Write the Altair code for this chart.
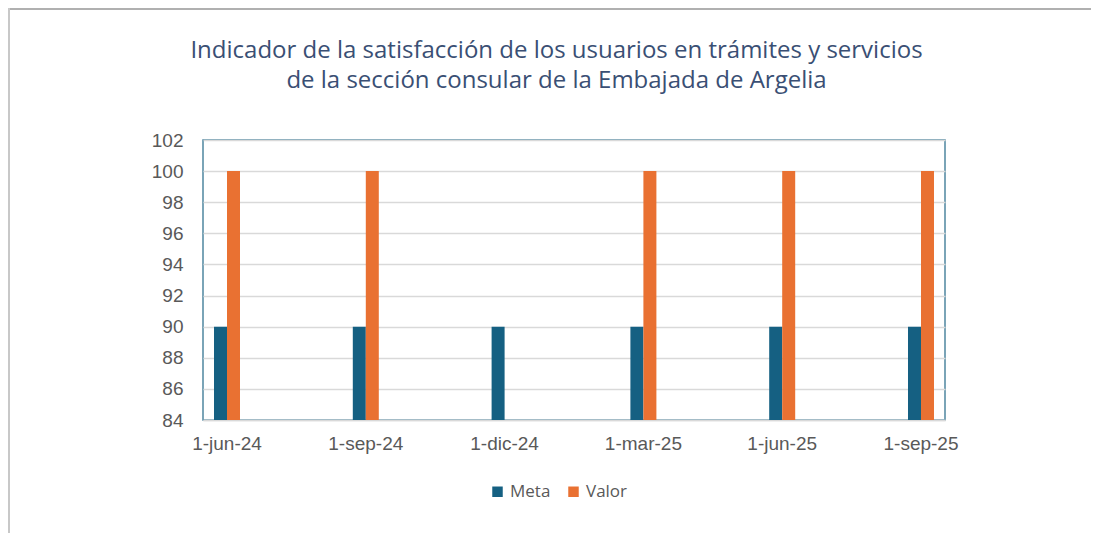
import altair as alt
import pandas as pd

fechas = ["1-jun-24", "1-sep-24", "1-dic-24", "1-mar-25", "1-jun-25", "1-sep-25"]
meta = [90, 90, 90, 90, 90, 90]
valor = [100, 100, None, 100, 100, 100]
series = ["Meta", "Valor"]
colores = ["#156082", "#E97132"]
y_ticks = list(range(84, 103, 2))
titulo = [
    "Indicador de la satisfacción de los usuarios en trámites y servicios",
    "de la sección consular de la Embajada de Argelia",
]

rows = []
for f, m, v in zip(fechas, meta, valor):
    rows.append({"fecha": f, "serie": "Meta", "valor": m})
    if v is not None:
        rows.append({"fecha": f, "serie": "Valor", "valor": v})
df = pd.DataFrame(rows)

W, H = 742, 280
PL, PT = 195, 132
PR = 1083 - PL - W
PB = 525 - PT - H

bars = alt.Chart(df).mark_bar(clip=True).encode(
    x=alt.X("fecha:N", sort=fechas, title=None,
            scale=alt.Scale(paddingInner=0.8127, paddingOuter=0.0793),
            axis=alt.Axis(labelAngle=0, ticks=False, domain=True, domainColor="#d9d9d9",
                          domainWidth=1.5, labelPadding=14, labelFontSize=19,
                          labelFont="Liberation Sans", labelColor="#595959", grid=False)),
    xOffset=alt.XOffset("serie:N", sort=series, scale=alt.Scale(paddingInner=0, paddingOuter=0)),
    y=alt.Y("valor:Q", title=None,
            scale=alt.Scale(domain=[84, 102], nice=False, zero=False),
            axis=alt.Axis(values=y_ticks, ticks=False, domain=False, gridColor="#d9d9d9",
                          gridWidth=1.5, labelPadding=20, labelFontSize=19,
                          labelFont="Liberation Sans", labelColor="#595959")),
    color=alt.Color("serie:N", sort=series,
                    scale=alt.Scale(domain=series, range=colores),
                    legend=alt.Legend(title=None, orient="none", direction="horizontal",
                                      legendX=286, legendY=343, symbolType="square",
                                      symbolSize=110, symbolStrokeWidth=0, labelFontSize=17,
                                      labelFont="Open Sans", labelColor="#595959",
                                      columnPadding=14, labelOffset=4)),
)

frame_df = pd.DataFrame({"a": [0]})
frame_top = alt.Chart(frame_df).mark_rule(color="#b0b0b0", strokeWidth=2).encode(
    x=alt.value(-PL), x2=alt.value(W + PR), y=alt.value(-PT + 1))
frame_left = alt.Chart(frame_df).mark_rule(color="#c8c8c8", strokeWidth=2).encode(
    x=alt.value(-PL + 1), y=alt.value(-PT), y2=alt.value(H + PB))

title_mark = alt.Chart(frame_df).mark_text(
    font="Open Sans", fontSize=24, color="#3A4F74", align="center", baseline="alphabetic",
    lineHeight=30,
).encode(
    x=alt.value(556.5 - 203), y=alt.value(58 - 140), text=alt.value(titulo))

chart = alt.layer(bars, frame_top, frame_left, title_mark).properties(
    width=W, height=H,
    autosize=alt.AutoSizeParams(type="none"),
    padding={"left": PL, "top": PT, "right": PR, "bottom": PB},
).configure(background="white").configure_view(stroke="#4f86a0", strokeWidth=1.5)

chart.save("out.html", embed_options={"renderer": "svg", "actions": False})
